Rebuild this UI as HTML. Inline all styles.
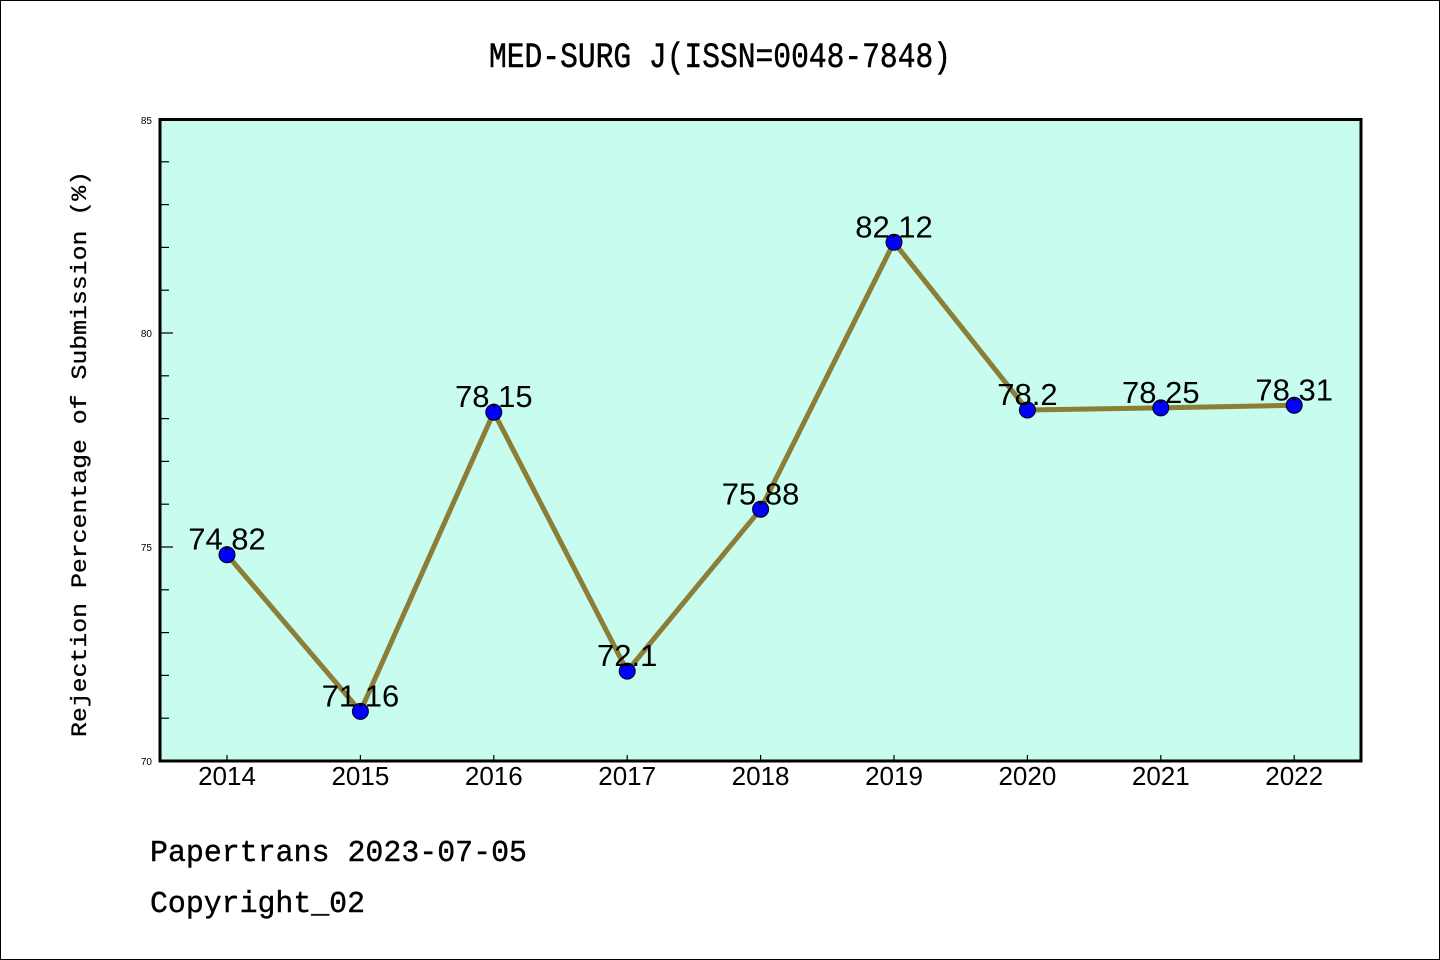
<!DOCTYPE html>
<html>
<head>
<meta charset="utf-8">
<style>
html,body{margin:0;padding:0;background:#fff;}
svg{display:block;}
</style>
</head>
<body>
<svg width="1440" height="960" viewBox="0 0 1440 960" xmlns="http://www.w3.org/2000/svg">
  <rect x="0.5" y="0.5" width="1439" height="959" fill="#ffffff" stroke="#000" stroke-width="1"/>
  <!-- title -->
  <text x="489" y="67" font-family="Liberation Mono, monospace" font-size="35" textLength="462" lengthAdjust="spacingAndGlyphs" fill="#000" stroke="#000" stroke-width="0.5">MED-SURG J(ISSN=0048-7848)</text>
  <!-- plot area -->
  <rect x="160" y="119.5" width="1201" height="641.5" fill="#c7fcee"/>
  <!-- y minor/major ticks -->
  <g stroke="#000" stroke-width="1.2">
    <line x1="161" y1="718.2" x2="169" y2="718.2"/>
    <line x1="161" y1="675.4" x2="169" y2="675.4"/>
    <line x1="161" y1="632.6" x2="169" y2="632.6"/>
    <line x1="161" y1="589.8" x2="169" y2="589.8"/>
    <line x1="161" y1="547" x2="173" y2="547"/>
    <line x1="161" y1="504.2" x2="169" y2="504.2"/>
    <line x1="161" y1="461.4" x2="169" y2="461.4"/>
    <line x1="161" y1="418.6" x2="169" y2="418.6"/>
    <line x1="161" y1="375.8" x2="169" y2="375.8"/>
    <line x1="161" y1="333" x2="173" y2="333"/>
    <line x1="161" y1="290.2" x2="169" y2="290.2"/>
    <line x1="161" y1="247.4" x2="169" y2="247.4"/>
    <line x1="161" y1="204.6" x2="169" y2="204.6"/>
    <line x1="161" y1="161.8" x2="169" y2="161.8"/>
  </g>
  <!-- x ticks -->
  <g stroke="#000" stroke-width="1.2">
    <line x1="227" y1="761" x2="227" y2="755"/>
    <line x1="360.4" y1="761" x2="360.4" y2="755"/>
    <line x1="493.8" y1="761" x2="493.8" y2="755"/>
    <line x1="627.2" y1="761" x2="627.2" y2="755"/>
    <line x1="760.6" y1="761" x2="760.6" y2="755"/>
    <line x1="894" y1="761" x2="894" y2="755"/>
    <line x1="1027.4" y1="761" x2="1027.4" y2="755"/>
    <line x1="1160.8" y1="761" x2="1160.8" y2="755"/>
    <line x1="1294.2" y1="761" x2="1294.2" y2="755"/>
  </g>
  <!-- frame -->
  <rect x="160" y="119.5" width="1201" height="641.5" fill="none" stroke="#000" stroke-width="3"/>
  <!-- y tick labels -->
  <g font-family="Liberation Sans, DejaVu Sans, sans-serif" font-size="10" fill="#000" text-anchor="end">
    <text x="152" y="124">85</text>
    <text x="152" y="337">80</text>
    <text x="152" y="551">75</text>
    <text x="152" y="765">70</text>
  </g>
  <!-- x tick labels -->
  <g font-family="Liberation Sans, Arial, sans-serif" font-size="26" fill="#000" text-anchor="middle">
    <text x="227" y="785">2014</text>
    <text x="360.4" y="785">2015</text>
    <text x="493.8" y="785">2016</text>
    <text x="627.2" y="785">2017</text>
    <text x="760.6" y="785">2018</text>
    <text x="894" y="785">2019</text>
    <text x="1027.4" y="785">2020</text>
    <text x="1160.8" y="785">2021</text>
    <text x="1294.2" y="785">2022</text>
  </g>
  <!-- y label -->
  <text transform="translate(86,454) rotate(-90)" x="0" y="0" text-anchor="middle" font-family="Liberation Mono, monospace" font-size="22" textLength="566" lengthAdjust="spacingAndGlyphs" fill="#000" stroke="#000" stroke-width="0.3">Rejection Percentage of Submission (%)</text>
  <!-- line -->
  <polyline fill="none" stroke="#8c7e36" stroke-width="5" stroke-linejoin="round"
    points="227,554.7 360.4,711.4 493.8,412.2 627.2,671.1 760.6,509.3 894,242.3 1027.4,410 1160.8,407.9 1294.2,405.3"/>
  <!-- markers -->
  <g fill="#0000ff" stroke="#000" stroke-width="1">
    <circle cx="227" cy="554.7" r="8"/>
    <circle cx="360.4" cy="711.4" r="8"/>
    <circle cx="493.8" cy="412.2" r="8"/>
    <circle cx="627.2" cy="671.1" r="8"/>
    <circle cx="760.6" cy="509.3" r="8"/>
    <circle cx="894" cy="242.3" r="8"/>
    <circle cx="1027.4" cy="410" r="8"/>
    <circle cx="1160.8" cy="407.9" r="8"/>
    <circle cx="1294.2" cy="405.3" r="8"/>
  </g>
  <!-- data labels -->
  <g font-family="Liberation Sans, Arial, sans-serif" font-size="31" fill="#000" text-anchor="middle">
    <text x="227" y="549.7">74.82</text>
    <text x="360.4" y="706.4">71.16</text>
    <text x="493.8" y="407.2">78.15</text>
    <text x="627.2" y="666.1">72.1</text>
    <text x="760.6" y="504.3">75.88</text>
    <text x="894" y="237.3">82.12</text>
    <text x="1027.4" y="405">78.2</text>
    <text x="1160.8" y="402.9">78.25</text>
    <text x="1294.2" y="400.3">78.31</text>
  </g>
  <!-- footer -->
  <text x="150" y="861" font-family="Liberation Mono, monospace" font-size="31" textLength="377" lengthAdjust="spacingAndGlyphs" fill="#000" stroke="#000" stroke-width="0.4">Papertrans 2023-07-05</text>
  <text x="150" y="912" font-family="Liberation Mono, monospace" font-size="31" textLength="215" lengthAdjust="spacingAndGlyphs" fill="#000" stroke="#000" stroke-width="0.4">Copyright_02</text>
</svg>
</body>
</html>
